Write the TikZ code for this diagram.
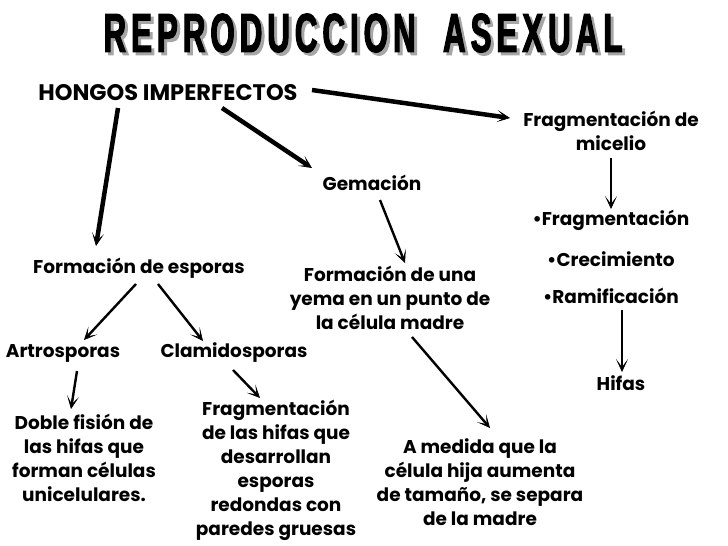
\documentclass[tikz,border=0pt]{standalone}
\usepackage{fontspec}
\setmainfont{Poppins}
\newfontfamily\titlefont{Liberation Sans}[FakeStretch=0.57, LetterSpace=9, FakeBold=2]
\usepackage{xcolor}
\usepackage{tikz}
\usetikzlibrary{arrows.meta}
\newcommand{\txt}{\fontsize{18.5}{24}\selectfont\bfseries}
\newcommand{\ttl}{\titlefont\bfseries\fontsize{55}{55}\selectfont}

\begin{document}
\begin{tikzpicture}[x=1pt, y=-1pt,
    every node/.style={inner sep=1pt, font=\txt, align=center},
    con/.style={line width=2.4pt, -{Stealth[length=13pt, width=12pt, inset=8pt, line width=0.6pt]}},
    thick con/.style={con, line width=4.5pt}]
    \useasboundingbox[fill=white] (0,0) rectangle (728,546);
    % title with shadow
    \node[text=black!35, font=\ttl] at (366,36) {REPRODUCCION\ \ ASEXUAL};
    \node[font=\ttl] (title) at (363,33) {REPRODUCCION\ \ ASEXUAL};
    % nodes
    \node[font=\fontsize{22.5}{24}\selectfont\bfseries] (hongos) at (168,93) {HONGOS IMPERFECTOS};
    \node (fragmic) at (611,131) {Fragmentación de\\micelio};
    \node (gem) at (372,183) {Gemación};
    \node (bfrag) at (611,220) {•Fragmentación};
    \node (bcrec) at (611,259) {•Crecimiento};
    \node (bram) at (611,296) {•Ramificación};
    \node (esporas) at (139,268) {Formación de esporas};
    \node (yema) at (390,298) {Formación de una\\yema en un punto de\\la célula madre};
    \node (artro) at (63,353) {Artrosporas};
    \node (clami) at (234,353) {Clamidosporas};
    \node (hifas) at (621,383) {Hifas};
    \node (doble) at (84,458) {Doble fisión de\\las hifas que\\forman células\\unicelulares.};
    \node (frhifas) at (276,470) {Fragmentación\\de las hifas que\\desarrollan\\esporas\\redondas con\\paredes gruesas};
    \node (medida) at (480,482) {A medida que la\\célula hija aumenta\\de tamaño, se separa\\de la madre};
    % connectors
    \draw[thick con] ([shift={(144,-3)}]hongos.center) -- ([shift={(-101,-13)}]fragmic.center);
    \draw[thick con] ([shift={(54,15)}]hongos.center) -- ([shift={(-60,-15)}]gem.center);
    \draw[thick con] ([shift={(-50,15)}]hongos.center) -- ([shift={(-43,-22)}]esporas.center);
    \draw[con] ([shift={(8,17)}]gem.center) -- ([shift={(15,-35)}]yema.center);
    \draw[con] ([shift={(0,27)}]fragmic.center) -- ([shift={(0,-11)}]bfrag.center);
    \draw[con] ([shift={(-3,16)}]esporas.center) -- ([shift={(21,-13)}]artro.center);
    \draw[con] ([shift={(19,16)}]esporas.center) -- ([shift={(-31,-12)}]clami.center);
    \draw[con] ([shift={(22,39)}]yema.center) -- ([shift={(10,-54)}]medida.center);
    \draw[con] ([shift={(11,14)}]bram.center) -- ([shift={(1,-11)}]hifas.center);
    \draw[con] ([shift={(14,18)}]artro.center) -- ([shift={(-13,-49)}]doble.center);
    \draw[con] ([shift={(-1,17)}]clami.center) -- ([shift={(-16,-72)}]frhifas.center);
\end{tikzpicture}
\end{document}
